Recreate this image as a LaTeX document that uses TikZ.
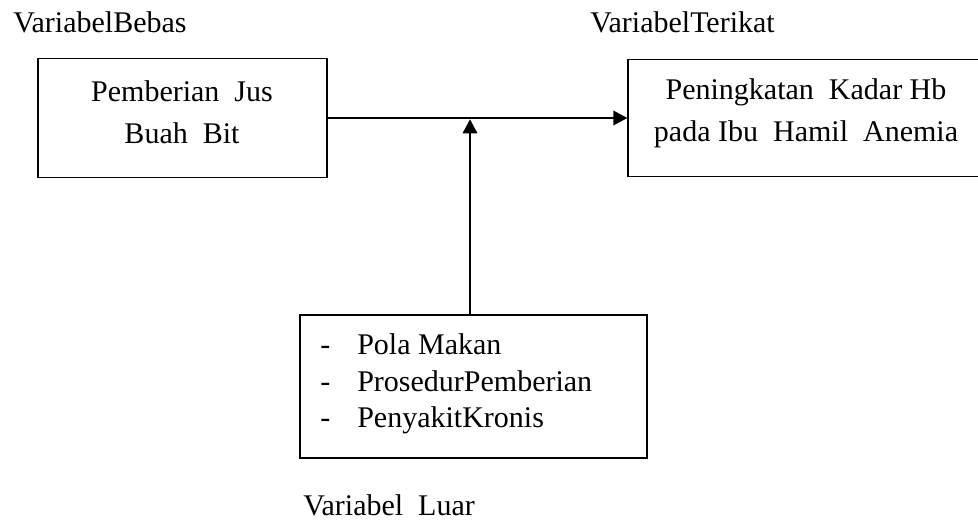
\documentclass[tikz,border=0pt]{standalone}
\usepackage{fontspec}
\setmainfont{Liberation Serif}
\usetikzlibrary{arrows.meta}

\tikzset{
  varbox/.style={draw, line width=1pt, rectangle, inner sep=0pt},
  boxtext/.style={align=center, inner sep=0pt, font=\fontsize{22.5}{31.5}\selectfont},
  headtext/.style={anchor=base west, inner sep=0pt, font=\fontsize{22.5}{27}\selectfont},
  flowarrow/.style={line width=1pt, -{Triangle[length=10.5pt, width=11pt]}}
}

\begin{document}
\begin{tikzpicture}[x=0.75pt,y=0.75pt,yscale=-1,xscale=1]
        \useasboundingbox (0,0) rectangle (978,531);

        %Headings
        \node [headtext] (bebaslabel) at (13,33) {VariabelBebas};
        \node [headtext] (terikatlabel) at (590,33) {VariabelTerikat};
        \node [headtext] (luarlabel) at (303,515) {Variabel\ \ Luar};

        %Shape: Rectangle [independent variable]
        \node [varbox, minimum width=216.75pt, minimum height=89.25pt] (bebas) at (182.5,118) {};
        \node [boxtext] (bebastext) at (182,112) {Pemberian\ \ Jus\\Buah\ \ Bit};

        %Shape: Rectangle [dependent variable] -- runs past the right margin
        \node [varbox, minimum width=277.5pt, minimum height=87.75pt] (terikat) at (813,118) {};
        \node [boxtext] (terikattext) at (806,113) {Peningkatan\ \ Kadar Hb\\pada Ibu\ \ Hamil\ \ Anemia};

        %Shape: Rectangle [confounding variables]
        \node [varbox, minimum width=260.25pt, minimum height=107.25pt] (luar) at (473.5,386.5) {};
        \node [anchor=north west, align=left, inner sep=0pt, font=\fontsize{22.5}{27.4}\selectfont] (luartext) at (320,333.5)
          {\makebox[27.75pt][l]{-}Pola Makan\\
           \makebox[27.75pt][l]{-}ProsedurPemberian\\
           \makebox[27.75pt][l]{-}PenyakitKronis};

        %Straight Lines with arrows
        \coordinate (junction) at (470,118);
        \draw [flowarrow] (bebas.east) -- (terikat.west);
        \draw [flowarrow, shorten >=1pt] (luar.north -| junction) -- (junction);
\end{tikzpicture}
\end{document}
